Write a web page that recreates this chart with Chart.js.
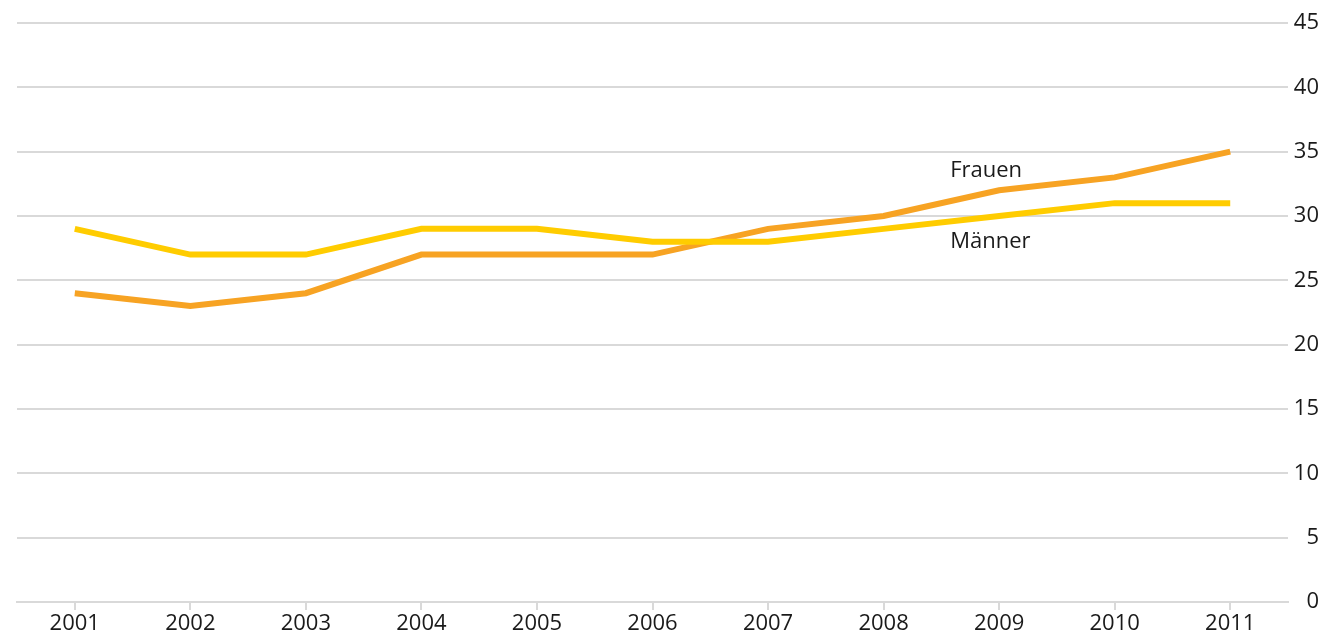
<!DOCTYPE html>
<html>
<head>
<meta charset="utf-8">
<script src="https://cdn.jsdelivr.net/npm/chart.js@4/dist/chart.umd.min.js"></script>
<style>
  html, body { margin: 0; padding: 0; background: #fff; }
  #wrap { width: 1325px; height: 639px; }
</style>
</head>
<body>
<div id="wrap"><canvas id="lineChart"></canvas></div>
<script>
const years = ['2001', '2002', '2003', '2004', '2005', '2006', '2007', '2008', '2009', '2010', '2011'];
const frauen = [24, 23, 24, 27, 27, 27, 29, 30, 32, 33, 35];
const maenner = [29, 27, 27, 29, 29, 28, 28, 29, 30, 31, 31];
const yTicks = [0, 5, 10, 15, 20, 25, 30, 35, 40, 45];

// series names written next to the lines, near 2009
const seriesLabels = [
  { text: 'Frauen', year: '2009', value: 33.5 },
  { text: 'Männer', year: '2009', value: 28.0 }
];

const FONT = '"Open Sans", sans-serif';
const GRID = '#d9d9d9';
const TEXT = '#1a1a1a';

const lineLabels = {
  id: 'lineLabels',
  afterDatasetsDraw(chart) {
    const { ctx, scales: { x, y } } = chart;
    ctx.save();
    ctx.font = '22px ' + FONT;
    ctx.fillStyle = TEXT;
    ctx.textAlign = 'left';
    ctx.textBaseline = 'middle';
    seriesLabels.forEach(l => {
      const px = x.getPixelForValue(years.indexOf(l.year)) - 49;
      ctx.fillText(l.text, px, y.getPixelForValue(l.value));
    });
    ctx.restore();
  }
};

const ctx = document.getElementById('lineChart').getContext('2d');
new Chart(ctx, {
  type: 'line',
  data: {
    labels: years,
    datasets: [
      {
        label: 'Männer',
        data: maenner,
        borderColor: '#ffcc00',
        borderWidth: 6,
        pointRadius: 0,
        tension: 0
      },
      {
        label: 'Frauen',
        data: frauen,
        borderColor: '#f7a323',
        borderWidth: 6,
        pointRadius: 0,
        tension: 0
      }
    ]
  },
  options: {
    responsive: true,
    maintainAspectRatio: false,
    animation: false,
    layout: { padding: { top: 23, left: 17, right: 6, bottom: 0 } },
    plugins: {
      legend: { display: false },
      tooltip: { enabled: false }
    },
    scales: {
      x: {
        offset: true,
        grid: { drawOnChartArea: false, drawTicks: true, tickLength: 8, color: GRID, lineWidth: 2 },
        border: { color: GRID, width: 2 },
        ticks: { color: TEXT, font: { family: FONT, size: 22 }, padding: 1, maxRotation: 0 },
        afterFit(scale) { scale.height = 37; }
      },
      y: {
        position: 'right',
        min: 0,
        max: 45,
        afterBuildTicks(scale) { scale.ticks = yTicks.map(v => ({ value: v })); },
        grid: { color: GRID, lineWidth: 2, drawTicks: false },
        border: { display: false },
        ticks: { color: TEXT, font: { family: FONT, size: 22 }, padding: 6, crossAlign: 'far' },
        afterFit(scale) { scale.width = 31; }
      }
    }
  },
  plugins: [lineLabels]
});
</script>
</body>
</html>
